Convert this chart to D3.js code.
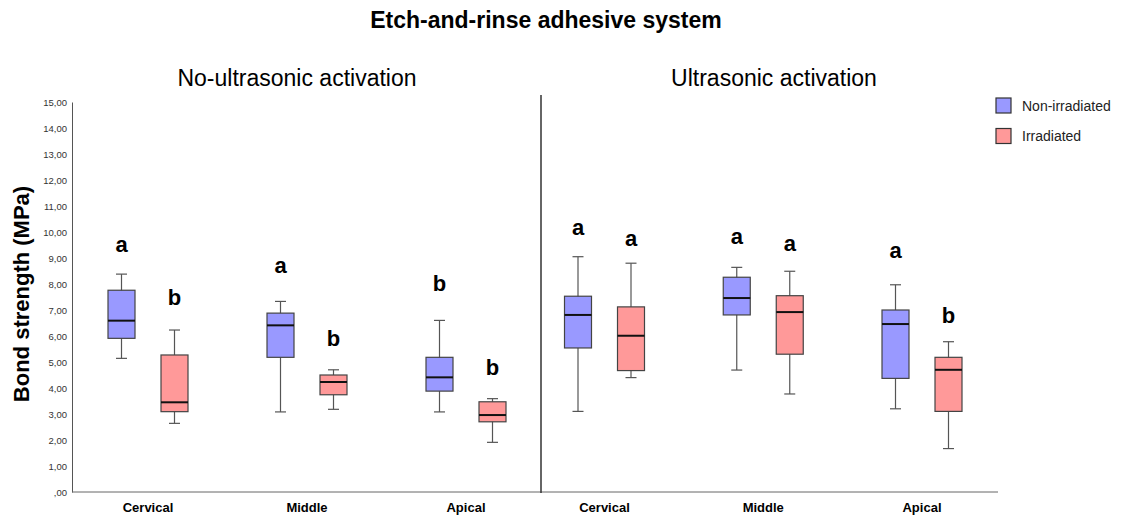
<!DOCTYPE html>
<html>
<head>
<meta charset="utf-8">
<script src="https://cdn.jsdelivr.net/npm/d3@7"></script>
<style>
  body { margin: 0; background: #fff; }
  svg { display: block; font-family: "Liberation Sans", Arial, Helvetica, sans-serif; }
</style>
</head>
<body>
<svg id="chart"></svg>
<script>
// categories and groups
const regions = ['Cervical', 'Middle', 'Apical'];
const panels = ['No-ultrasonic activation', 'Ultrasonic activation'];
const groups = ['Non-irradiated', 'Irradiated'];
const yTicks = [0, 1, 2, 3, 4, 5, 6, 7, 8, 9, 10, 11, 12, 13, 14, 15];

// box stats per panel: [min, q1, median, q3, max] for Cervical, Middle, Apical
const noUsNonIrr = [[5.14, 5.91, 6.59, 7.76, 8.38], [3.08, 5.18, 6.41, 6.88, 7.33], [3.08, 3.88, 4.41, 5.18, 6.60]];
const noUsIrr    = [[2.64, 3.09, 3.45, 5.27, 6.23], [3.18, 3.74, 4.23, 4.50, 4.70], [1.91, 2.70, 2.96, 3.47, 3.59]];
const usNonIrr   = [[3.10, 5.54, 6.81, 7.53, 9.05], [4.69, 6.81, 7.46, 8.26, 8.64], [3.20, 4.37, 6.46, 7.00, 7.97]];
const usIrr      = [[4.40, 4.67, 6.01, 7.12, 8.80], [3.77, 5.30, 6.92, 7.55, 8.49], [1.67, 3.10, 4.70, 5.18, 5.78]];

// significance letters and the value where each sits
const noUsNonIrrLetters = ['a', 'a', 'b'];
const noUsIrrLetters    = ['b', 'b', 'b'];
const usNonIrrLetters   = ['a', 'a', 'a'];
const usIrrLetters      = ['a', 'a', 'b'];
const noUsNonIrrLetterY = [9.23, 8.42, 7.73];
const noUsIrrLetterY    = [7.19, 5.62, 4.50];
const usNonIrrLetterY   = [9.88, 9.54, 9.00];
const usIrrLetterY      = [9.46, 9.27, 6.50];

const W = 1126, H = 516;
const svg = d3.select('#chart').attr('width', W).attr('height', H);

const y = d3.scaleLinear().domain([0, 15]).range([492, 102]);
const color = d3.scaleOrdinal().domain(groups).range(['#9999ff', '#ff9999']);
const offset = d3.scalePoint().domain(groups).range([-26.5, 26.5]);

const panelX = [
  d3.scalePoint().domain(regions).range([148, 466]),
  d3.scalePoint().domain(regions).range([604.5, 922])
];

// titles
svg.append('text')
  .attr('x', 546).attr('y', 28)
  .attr('text-anchor', 'middle')
  .style('font-size', '23px').style('font-weight', 'bold')
  .text('Etch-and-rinse adhesive system');

const subX = [297, 774];
panels.forEach((p, i) => {
  svg.append('text')
    .attr('x', subX[i]).attr('y', 86)
    .attr('text-anchor', 'middle')
    .style('font-size', '23px')
    .text(p);
});

// y axis
const yAxis = svg.append('g')
  .attr('transform', 'translate(72,0)')
  .call(d3.axisLeft(y).tickValues(yTicks).tickSize(0).tickPadding(5)
    .tickFormat(d => d === 0 ? ',00' : d3.format('.2f')(d).replace('.', ',')));
yAxis.select('.domain').attr('stroke', '#555');
yAxis.selectAll('text').style('font-size', '9.5px').attr('fill', '#333')
  .style('font-family', '"Liberation Sans", Arial, sans-serif');

svg.append('text')
  .attr('transform', 'translate(29,294) rotate(-90)')
  .attr('text-anchor', 'middle')
  .style('font-size', '22px').style('font-weight', 'bold')
  .text('Bond strength (MPa)');

// bottom axis line and panel divider
svg.append('line')
  .attr('x1', 72).attr('x2', 998)
  .attr('y1', y(0)).attr('y2', y(0))
  .attr('stroke', '#666').attr('stroke-width', 1);
svg.append('line')
  .attr('x1', 541).attr('x2', 541)
  .attr('y1', y(15.27)).attr('y2', y(0) + 1)
  .attr('stroke', '#333').attr('stroke-width', 1.5);

// x labels
panelX.forEach(x => {
  svg.append('g').selectAll('text')
    .data(regions)
    .enter().append('text')
    .attr('x', d => x(d)).attr('y', 512)
    .attr('text-anchor', 'middle')
    .style('font-size', '13px').style('font-weight', 'bold')
    .text(d => d);
});

// boxes
const series = [
  { panel: 0, group: 'Non-irradiated', stats: noUsNonIrr, letters: noUsNonIrrLetters, letterY: noUsNonIrrLetterY },
  { panel: 0, group: 'Irradiated', stats: noUsIrr, letters: noUsIrrLetters, letterY: noUsIrrLetterY },
  { panel: 1, group: 'Non-irradiated', stats: usNonIrr, letters: usNonIrrLetters, letterY: usNonIrrLetterY },
  { panel: 1, group: 'Irradiated', stats: usIrr, letters: usIrrLetters, letterY: usIrrLetterY }
];

const boxW = 27, capW = 11;

series.forEach(s => {
  const x = panelX[s.panel];
  const g = svg.append('g');
  const box = g.selectAll('.box')
    .data(s.stats.map((st, i) => ({ region: regions[i], st, letter: s.letters[i], ly: s.letterY[i] })))
    .enter().append('g')
    .attr('class', 'box')
    .attr('transform', d => `translate(${x(d.region) + offset(s.group)},0)`);

  // whiskers
  box.append('line')
    .attr('x1', 0).attr('x2', 0)
    .attr('y1', d => y(d.st[0])).attr('y2', d => y(d.st[4]))
    .attr('stroke', '#555').attr('stroke-width', 1.2);
  box.append('line')
    .attr('x1', -capW / 2).attr('x2', capW / 2)
    .attr('y1', d => y(d.st[0])).attr('y2', d => y(d.st[0]))
    .attr('stroke', '#555').attr('stroke-width', 1.2);
  box.append('line')
    .attr('x1', -capW / 2).attr('x2', capW / 2)
    .attr('y1', d => y(d.st[4])).attr('y2', d => y(d.st[4]))
    .attr('stroke', '#555').attr('stroke-width', 1.2);

  // box body
  box.append('rect')
    .attr('x', -boxW / 2).attr('width', boxW)
    .attr('y', d => y(d.st[3]))
    .attr('height', d => y(d.st[1]) - y(d.st[3]))
    .attr('fill', color(s.group))
    .attr('stroke', '#444').attr('stroke-width', 1.2);

  // median
  box.append('line')
    .attr('x1', -boxW / 2).attr('x2', boxW / 2)
    .attr('y1', d => y(d.st[2])).attr('y2', d => y(d.st[2]))
    .attr('stroke', '#111').attr('stroke-width', 2);

  // letters
  box.append('text')
    .attr('x', 0).attr('y', d => y(d.ly))
    .attr('text-anchor', 'middle')
    .style('font-size', '22px').style('font-weight', 'bold')
    .text(d => d.letter);
});

// legend
const legend = svg.append('g').attr('transform', 'translate(996,98)');
const item = legend.selectAll('g')
  .data(groups)
  .enter().append('g')
  .attr('transform', (d, i) => `translate(0,${i * 30.5})`);
item.append('rect')
  .attr('width', 15).attr('height', 15)
  .attr('fill', d => color(d))
  .attr('stroke', '#333').attr('stroke-width', 1.2);
item.append('text')
  .attr('x', 26).attr('y', 12.5)
  .style('font-size', '14px').attr('fill', '#222')
  .text(d => d);
</script>
</body>
</html>
